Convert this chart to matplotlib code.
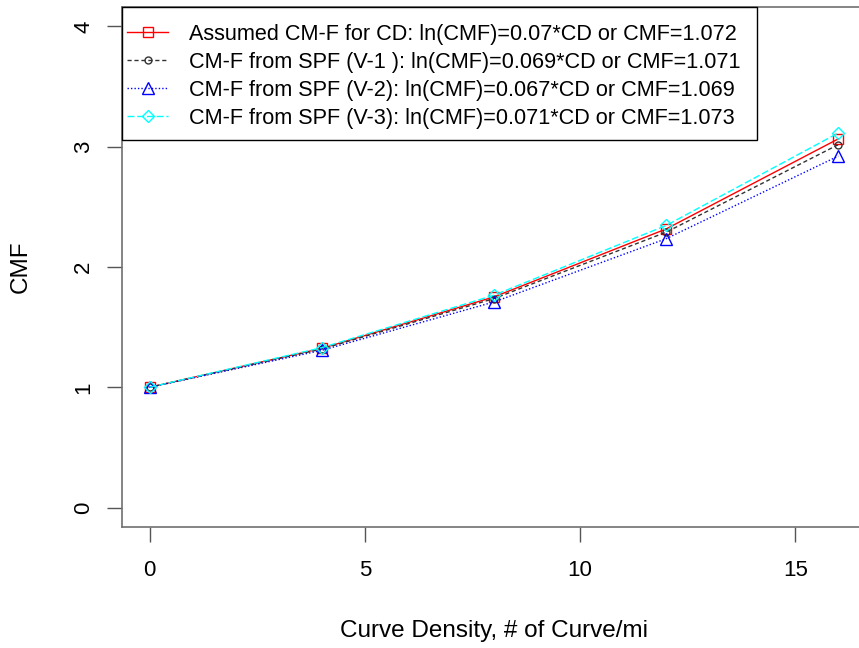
import numpy as np
import matplotlib.pyplot as plt
from matplotlib.patches import Rectangle

plt.rcParams['font.family'] = ['Liberation Sans', 'DejaVu Sans']

# curve density (# of curves per mile) and the CMF of each model
cd = [0, 4, 8, 12, 16]
cmf_assumed = [1.0, 1.323, 1.751, 2.316, 3.065]
cmf_v1 = [1.0, 1.318, 1.737, 2.289, 3.017]
cmf_v2 = [1.0, 1.307, 1.709, 2.235, 2.922]
cmf_v3 = [1.0, 1.329, 1.765, 2.345, 3.114]

labels = [
    'Assumed CM-F for CD: ln(CMF)=0.07*CD or CMF=1.072',
    'CM-F from SPF (V-1 ): ln(CMF)=0.069*CD or CMF=1.071',
    'CM-F from SPF (V-2): ln(CMF)=0.067*CD or CMF=1.069',
    'CM-F from SPF (V-3): ln(CMF)=0.071*CD or CMF=1.073',
]

fig = plt.figure(figsize=(8.59, 6.48), dpi=100)
ax = fig.add_axes([0.142, 0.187, 0.866, 0.802])

styles = [
    dict(color='#ff0000', ls='-', marker='s', ms=7),
    dict(color='#333333', ls=(0, (3, 2)), marker='o', ms=5),
    dict(color='#0000ff', ls=(0, (1, 1.5)), marker='^', ms=9),
    dict(color='#00ffff', ls=(0, (5, 2)), marker='D', ms=6.5),
]
series = [cmf_assumed, cmf_v1, cmf_v2, cmf_v3]

handles = []
for y, st, lab in zip(series, styles, labels):
    h, = ax.plot(cd, y, color=st['color'], ls=st['ls'], lw=1,
                 marker=st['marker'], ms=st['ms'], mfc='none',
                 mec=st['color'], mew=1, label=lab)
    handles.append(h)

ax.set_xlim(-0.64, 16.64)
ax.set_ylim(-0.16, 4.16)
ax.set_xticks([0, 5, 10, 15])
ax.set_yticks([0, 1, 2, 3, 4])
ax.tick_params(axis='both', direction='out', length=11, width=1,
               colors='#555555', labelcolor='black', labelsize=16)
ax.tick_params(axis='x', pad=13)
ax.tick_params(axis='y', pad=9)
for t in ax.get_yticklabels():
    t.set_rotation(90)
    t.set_va('center')
for s in ax.spines.values():
    s.set_color('#707070')
    s.set_linewidth(1.2)

ax.set_xlabel('Curve Density, # of Curve/mi', fontsize=17.5, labelpad=28)
ax.set_ylabel('CMF', fontsize=17.5, labelpad=30)

# legend box drawn separately so the inner padding can differ per side
ax.add_patch(Rectangle((0, 0.744), 0.8535, 0.256, transform=ax.transAxes,
                       fill=False, edgecolor='black', lw=1, zorder=5,
                       clip_on=False))
leg = ax.legend(handles=handles, loc='upper left', fontsize=15.6,
                bbox_to_anchor=(0.0067, 0.968), frameon=False,
                borderaxespad=0, borderpad=0, handlelength=1.9,
                handletextpad=0.95, labelspacing=0.32)

fig.savefig('out.png', dpi=100)
